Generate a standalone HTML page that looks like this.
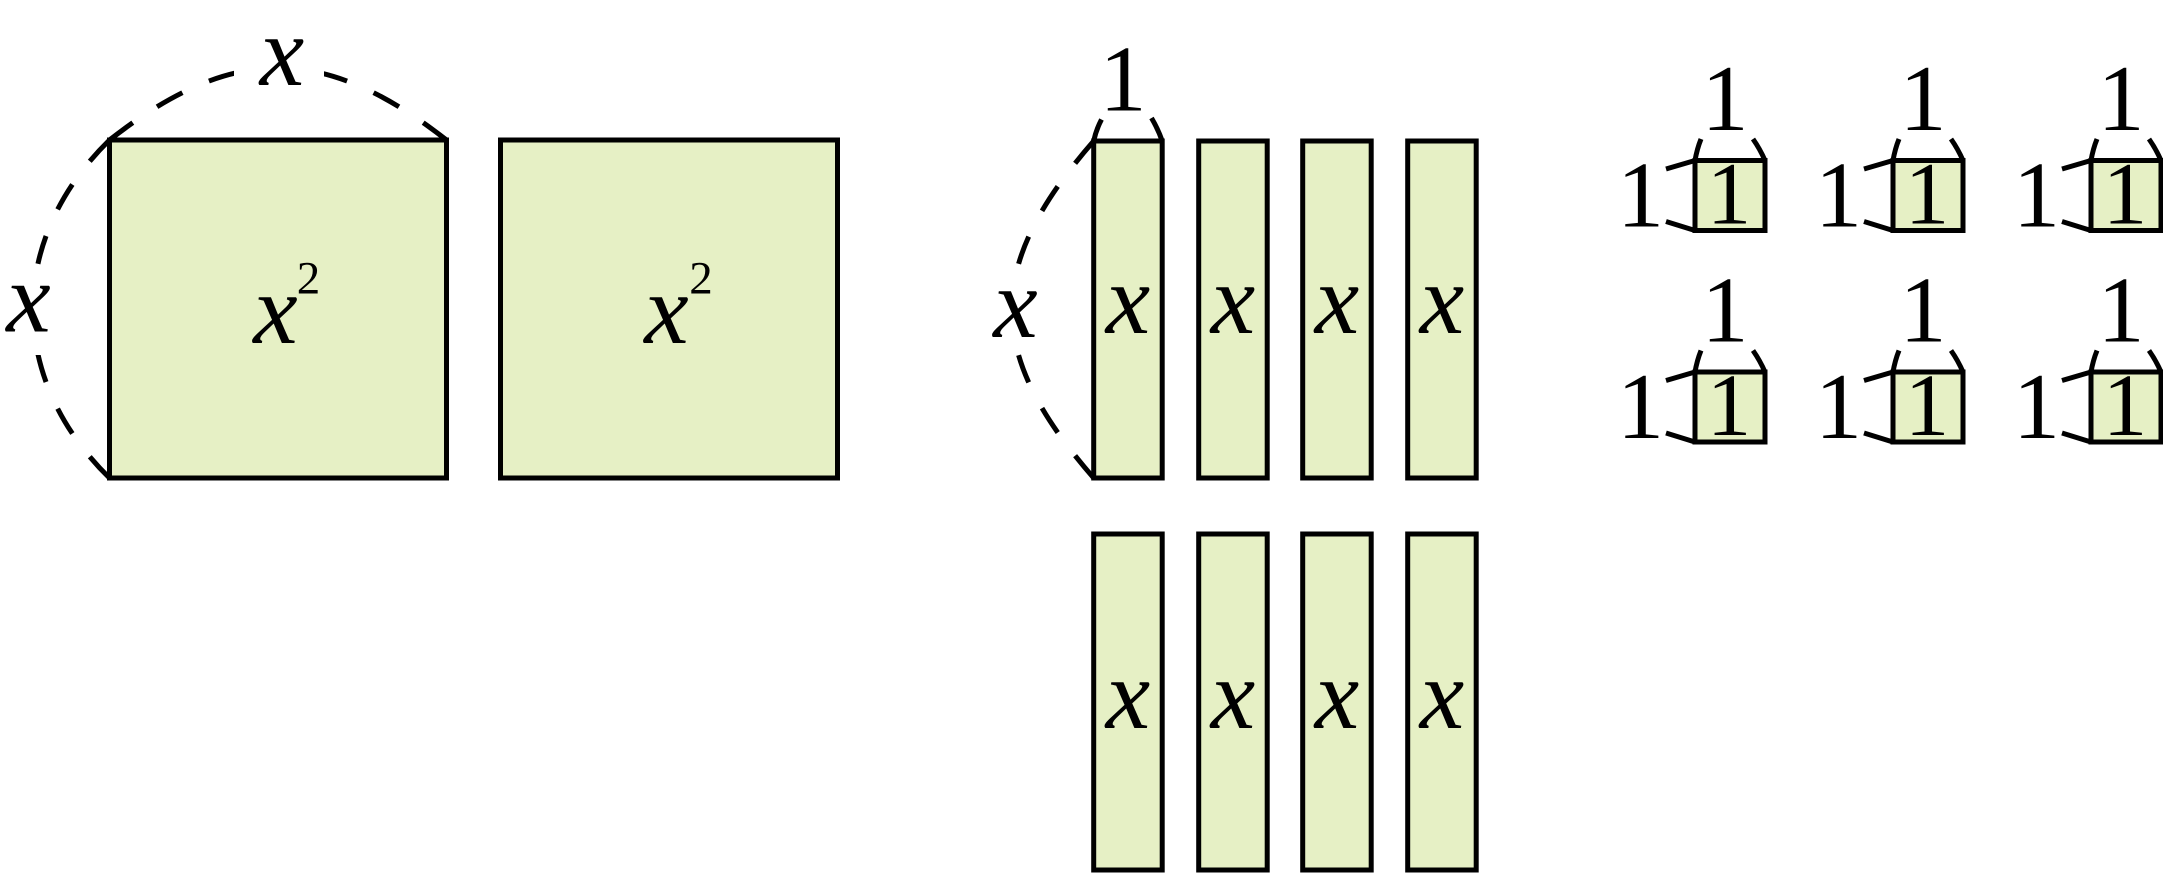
<!DOCTYPE html>
<html>
<head>
<meta charset="utf-8">
<style>
  html, body { margin: 0; padding: 0; background: #ffffff; }
  svg { display: block; }
  .x { font-family: "Liberation Serif", serif; font-style: italic; font-size: 100px; fill: #000; }
  .one { font-family: "Liberation Serif", serif; font-size: 94px; fill: #000; }
  .one-in { font-family: "Liberation Serif", serif; font-size: 89px; fill: #000; }
  .sup { font-family: "Liberation Serif", serif; font-size: 47px; fill: #000; }
</style>
</head>
<body>
<svg width="2163" height="874" viewBox="0 0 2163 874" xmlns="http://www.w3.org/2000/svg">
  <defs>
    <g id="unit">
      <rect x="1695" y="160.5" width="70" height="70" fill="#e6f0c5" stroke="#000" stroke-width="5"/>
      <g stroke="#000" stroke-width="5" fill="none" stroke-linecap="butt">
        <path d="M1695,160.5 L1666,169"/>
        <path d="M1695,230.5 L1666,221.5"/>
        <path d="M1695,160.5 Q1697,149 1701,139"/>
        <path d="M1765,160.5 Q1760,149 1753,139"/>
      </g>
    </g>
  </defs>

  <!-- Big squares -->
  <rect x="109.5" y="140" width="337" height="338" fill="#e6f0c5" stroke="#000" stroke-width="5"/>
  <rect x="500.5" y="140" width="337" height="338" fill="#e6f0c5" stroke="#000" stroke-width="5"/>

  <!-- Dashed arcs for big square -->
  <g stroke="#000" stroke-width="5" fill="none" stroke-dasharray="29 29">
    <path d="M109.5,140 C171,92 224.5,68 278,68"/>
    <path d="M446.5,140 C385,92 331.5,68 278,68"/>
    <path d="M109.5,140 C58.5,190 33,249.5 33,309"/>
    <path d="M109.5,478 C58.5,428 33,368.5 33,309"/>
  </g>
  <rect x="234" y="30" width="90" height="72" fill="#fff"/>
  <rect x="0" y="269" width="62" height="86" fill="#fff"/>

  <text class="x" x="282" y="85" text-anchor="middle">x</text>
  <text class="x" x="28.5" y="331.5" text-anchor="middle">x</text>

  <text class="x" x="275.5" y="343" text-anchor="middle">x</text>
  <text class="sup" x="308.5" y="293.3" text-anchor="middle">2</text>
  <text class="x" x="666.5" y="343" text-anchor="middle">x</text>
  <text class="sup" x="701" y="293.3" text-anchor="middle">2</text>

  <!-- Strips -->
  <g fill="#e6f0c5" stroke="#000" stroke-width="5">
    <rect x="1093.7" y="141" width="68.5" height="337"/>
    <rect x="1198.7" y="141" width="68.5" height="337"/>
    <rect x="1302.7" y="141" width="68.5" height="337"/>
    <rect x="1407.7" y="141" width="68.5" height="337"/>
    <rect x="1093.7" y="534" width="68.5" height="336"/>
    <rect x="1198.7" y="534" width="68.5" height="336"/>
    <rect x="1302.7" y="534" width="68.5" height="336"/>
    <rect x="1407.7" y="534" width="68.5" height="336"/>
  </g>

  <!-- Strip dashed arcs -->
  <g stroke="#000" stroke-width="5" fill="none" stroke-dasharray="29 29">
    <path d="M1093.7,141 C1039.2,203.5 1011.9,256.5 1011.9,309.5"/>
    <path d="M1093.7,478 C1039.2,415.5 1011.9,362.5 1011.9,309.5"/>
  </g>
  <rect x="980" y="270" width="64" height="84" fill="#fff"/>
  <g stroke="#000" stroke-width="5" fill="none">
    <path d="M1093.7,141 Q1096,130 1101.5,119.5"/>
    <path d="M1162.2,141 Q1158,129 1151.5,118"/>
  </g>

  <text class="one" x="1123" y="110.7" text-anchor="middle">1</text>
  <text class="x" x="1015.5" y="337" text-anchor="middle">x</text>

  <text class="x" x="1128" y="333" text-anchor="middle">x</text>
  <text class="x" x="1233" y="333" text-anchor="middle">x</text>
  <text class="x" x="1337" y="333" text-anchor="middle">x</text>
  <text class="x" x="1442" y="333" text-anchor="middle">x</text>
  <text class="x" x="1128" y="728" text-anchor="middle">x</text>
  <text class="x" x="1233" y="728" text-anchor="middle">x</text>
  <text class="x" x="1337" y="728" text-anchor="middle">x</text>
  <text class="x" x="1442" y="728" text-anchor="middle">x</text>

  <!-- Unit squares -->
  <use href="#unit" x="0" y="0"/>
  <use href="#unit" x="198" y="0"/>
  <use href="#unit" x="396" y="0"/>
  <use href="#unit" x="0" y="211.5"/>
  <use href="#unit" x="198" y="211.5"/>
  <use href="#unit" x="396" y="211.5"/>

  <!-- Unit labels row 1 -->
  <text class="one" x="1725" y="130" text-anchor="middle">1</text>
  <text class="one" x="1640.5" y="226.7" text-anchor="middle">1</text>
  <text class="one-in" x="1729" y="223.3" text-anchor="middle">1</text>

  <text class="one" x="1923" y="130" text-anchor="middle">1</text>
  <text class="one" x="1838.5" y="226.7" text-anchor="middle">1</text>
  <text class="one-in" x="1927" y="223.3" text-anchor="middle">1</text>

  <text class="one" x="2121" y="130" text-anchor="middle">1</text>
  <text class="one" x="2036.5" y="226.7" text-anchor="middle">1</text>
  <text class="one-in" x="2125" y="223.3" text-anchor="middle">1</text>

  <!-- Unit labels row 2 -->
  <text class="one" x="1725" y="341.5" text-anchor="middle">1</text>
  <text class="one" x="1640.5" y="438.2" text-anchor="middle">1</text>
  <text class="one-in" x="1729" y="434.8" text-anchor="middle">1</text>

  <text class="one" x="1923" y="341.5" text-anchor="middle">1</text>
  <text class="one" x="1838.5" y="438.2" text-anchor="middle">1</text>
  <text class="one-in" x="1927" y="434.8" text-anchor="middle">1</text>

  <text class="one" x="2121" y="341.5" text-anchor="middle">1</text>
  <text class="one" x="2036.5" y="438.2" text-anchor="middle">1</text>
  <text class="one-in" x="2125" y="434.8" text-anchor="middle">1</text>
</svg>
</body>
</html>
